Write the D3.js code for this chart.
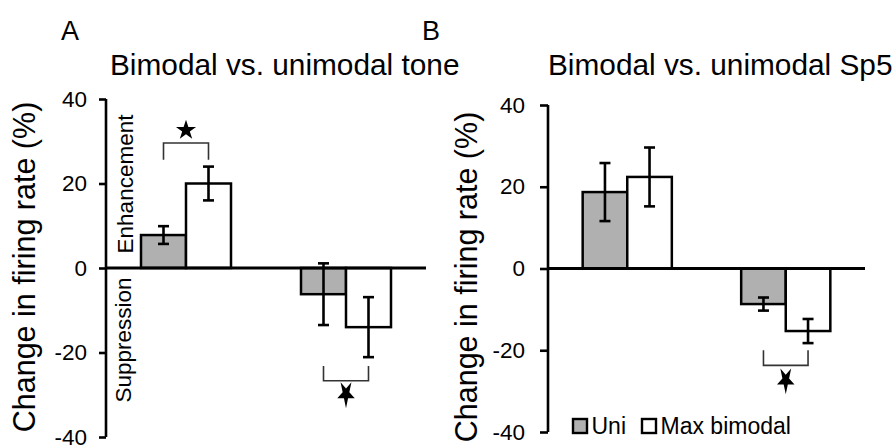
<!DOCTYPE html>
<html>
<head>
<meta charset="utf-8">
<script src="https://cdn.jsdelivr.net/npm/d3@7"></script>
<style>
  html, body { margin: 0; padding: 0; background: #fff; }
  svg { display: block; font-family: "Liberation Sans", Arial, sans-serif; }
</style>
</head>
<body>
<svg id="chart" width="896" height="446"></svg>
<script>
// categories and series
const groups = ["Enhancement", "Suppression"];
const series = ["Uni", "Max bimodal"];
const seriesFill = ["#b0b0b0", "#ffffff"];
const yTicks = [40, 20, 0, -20, -40];

// panel A: bimodal vs. unimodal tone (mean, s.e.m.) per group, per series
const toneMeans = [[7.8, 20], [-6.2, -14]];
const toneErr = [[2.1, 4], [7.3, 7.1]];
// panel B: bimodal vs. unimodal Sp5
const sp5Means = [[18.7, 22.4], [-8.7, -15.3]];
const sp5Err = [[7.1, 7.2], [1.6, 2.95]];

const svg = d3.select('#chart');

function drawPanel(opt) {
  const g = svg.append('g');

  const y = d3.scaleLinear().domain([-40, 40]).range([opt.bottom, opt.top]);
  const x0 = d3.scaleBand().domain(groups).range([opt.left, opt.right])
    .paddingInner(0.4375).paddingOuter(0.21875);
  const x1 = d3.scaleBand().domain(series).range([0, x0.bandwidth()]);

  // panel letter and title
  g.append('text').attr('x', opt.letterX).attr('y', 40)
    .attr('font-size', 27).text(opt.letter);
  g.append('text').attr('x', opt.titleX).attr('y', 75)
    .attr('font-size', 29.8).text(opt.title);

  // y axis label
  g.append('text')
    .attr('transform', 'translate(' + opt.labelX + ',' + opt.labelY + ') rotate(-90)')
    .attr('text-anchor', 'middle')
    .attr('font-size', 30.5)
    .text('Change in firing rate (%)');

  // bars
  opt.means.forEach((row, gi) => {
    row.forEach((v, si) => {
      const bx = x0(groups[gi]) + x1(series[si]);
      g.append('rect')
        .attr('x', bx).attr('width', x1.bandwidth())
        .attr('y', Math.min(y(v), y(0)))
        .attr('height', Math.abs(y(v) - y(0)))
        .attr('fill', seriesFill[si])
        .attr('stroke', '#000').attr('stroke-width', 2.5);
    });
  });

  // error bars
  opt.means.forEach((row, gi) => {
    row.forEach((v, si) => {
      const cx = x0(groups[gi]) + x1(series[si]) + x1.bandwidth() / 2;
      const e = opt.err[gi][si];
      const eg = g.append('g').attr('stroke', '#000').attr('stroke-width', 2.6);
      eg.append('line').attr('x1', cx).attr('x2', cx).attr('y1', y(v + e)).attr('y2', y(v - e));
      [v + e, v - e].forEach(t => {
        eg.append('line').attr('x1', cx - 5.5).attr('x2', cx + 5.5).attr('y1', y(t)).attr('y2', y(t));
      });
    });
  });

  // zero line
  g.append('line')
    .attr('x1', opt.left).attr('x2', opt.right)
    .attr('y1', y(0)).attr('y2', y(0))
    .attr('stroke', '#000').attr('stroke-width', 3);

  // y axis
  const axis = g.append('g')
    .attr('transform', 'translate(' + opt.left + ',0)')
    .call(d3.axisLeft(y).tickValues(yTicks).tickSize(opt.tickSize)
      .tickPadding(opt.tickPad).tickSizeOuter(0).tickFormat(d => d === 0 ? '0' : String(d).replace('\u2212', '-')));
  axis.select('.domain').attr('stroke', '#000').attr('stroke-width', 2.6)
    .attr('d', 'M0,' + y(40) + 'V' + y(-40));
  axis.selectAll('.tick line').attr('stroke', '#000').attr('stroke-width', 2.6);
  axis.selectAll('.tick text').attr('font-size', 22.5).attr('fill', '#000')
    .attr('font-family', '"Liberation Sans", Arial, sans-serif');

  // significance brackets
  opt.sig.forEach(s => {
    const xa = x0(groups[s.group]) + x1(series[0]) + x1.bandwidth() / 2;
    const xb = x0(groups[s.group]) + x1(series[1]) + x1.bandwidth() / 2;
    g.append('path')
      .attr('d', 'M' + xa + ',' + y(s.leg) + 'V' + y(s.bar) + 'H' + xb + 'V' + y(s.leg))
      .attr('fill', 'none').attr('stroke', '#333').attr('stroke-width', 1.6);
    const star = d3.symbol().type(d3.symbolStar).size(s.up ? 125 : 95);
    const tr = s.up
      ? 'translate(' + (xa + xb) / 2 + ',' + y(s.star) + ')'
      : 'translate(' + (xa + xb) / 2 + ',' + y(s.star) + ') scale(1,1.55) rotate(180)';
    g.append('path').attr('d', star()).attr('transform', tr).attr('fill', '#000');
  });

  return { g, y };
}

// panel A
const pA = drawPanel({
  letter: 'A', letterX: 61, title: 'Bimodal vs. unimodal tone', titleX: 110,
  labelX: 35, labelY: 267,
  left: 106, right: 426, top: 99, bottom: 437,
  tickSize: 7, tickPad: 12,
  means: toneMeans, err: toneErr,
  sig: [
    { group: 0, leg: 25.6, bar: 29.6, star: 32.6, up: true },
    { group: 1, leg: -23.2, bar: -26.7, star: -29.8, up: false }
  ]
});

// Enhancement / Suppression side labels
pA.g.append('text')
  .attr('transform', 'translate(133,' + 184 + ') rotate(-90)')
  .attr('text-anchor', 'middle').attr('font-size', 22.5).text('Enhancement');
pA.g.append('text')
  .attr('transform', 'translate(131,' + 340 + ') rotate(-90)')
  .attr('text-anchor', 'middle').attr('font-size', 22.5).text('Suppression');

// panel B
const pB = drawPanel({
  letter: 'B', letterX: 422, title: 'Bimodal vs. unimodal Sp5', titleX: 548,
  labelX: 477, labelY: 277,
  left: 548, right: 865, top: 105, bottom: 432,
  tickSize: 8, tickPad: 15,
  means: sp5Means, err: sp5Err,
  sig: [
    { group: 1, leg: -20, bar: -23.7, star: -27.3, up: false }
  ]
});

// legend
const legendX = [572, 641];
series.forEach((s, i) => {
  const lg = pB.g.append('g').attr('transform', 'translate(' + legendX[i] + ',418)');
  lg.append('rect').attr('x', 1).attr('y', 1).attr('width', 14).attr('height', 14)
    .attr('fill', seriesFill[i]).attr('stroke', '#000').attr('stroke-width', 2.4);
  lg.append('text').attr('x', 19.5).attr('y', 16).attr('font-size', 23).text(s);
});
</script>
</body>
</html>
